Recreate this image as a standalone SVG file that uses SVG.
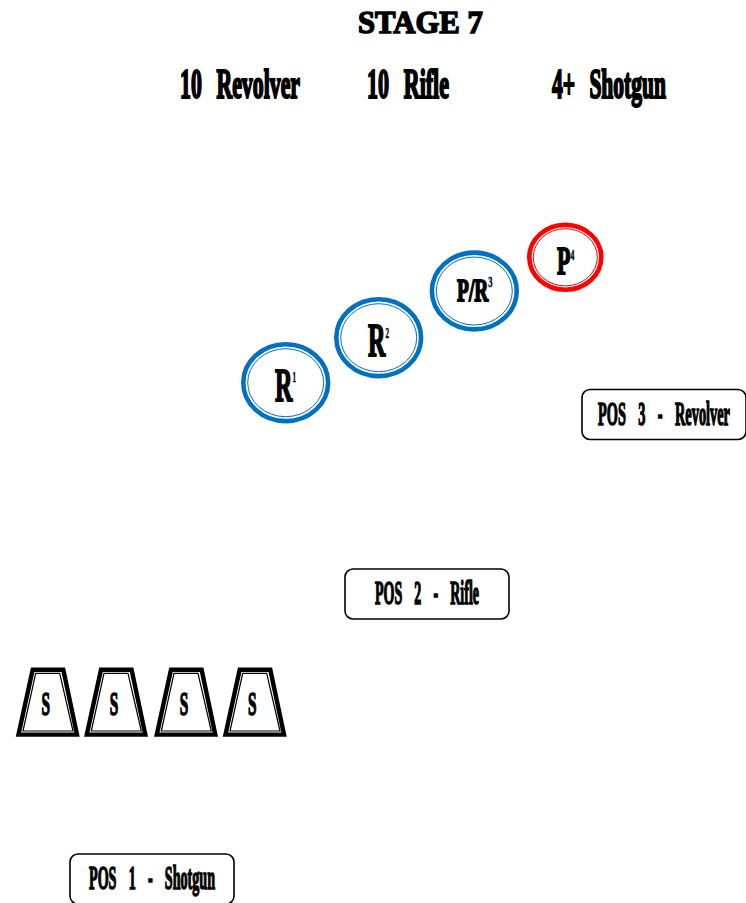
<svg xmlns="http://www.w3.org/2000/svg" width="746" height="903" viewBox="0 0 746 903">
<defs><style>
text{font-family:"Liberation Serif","DejaVu Serif",serif;font-weight:700;fill:#000;stroke:#000;text-anchor:start}
.t{font-size:31px;stroke-width:1.5}
.h{font-size:42px;stroke-width:2.2;word-spacing:17.500px}
.p{font-size:22px;stroke-width:1;word-spacing:13.500px}
.o{fill:#fff;stroke:#0070c0;stroke-width:4.600px}
.i{fill:none;stroke:#0070c0;stroke-width:1px}
.r{stroke:#f00}
.b{fill:#fff;stroke:#000;stroke-width:1.600px}
.to{fill:#fff;stroke:#000;stroke-width:4.400px;stroke-linejoin:miter}
.ti{fill:none;stroke:#000;stroke-width:1.200px}
.s{font-size:33px;stroke-width:1.500}
.c{stroke-width:1.800}
.u{font-size:14px;stroke-width:.4}
</style></defs>
<rect width="746" height="903" fill="#fff"/>
<g id="header">
<text class="t" transform="translate(358 33) scale(.99 1)">STAGE 7</text>
<text class="h" transform="translate(180 97.500) scale(.52 1)">10 Revolver</text>
<text class="h" transform="translate(367 97.500) scale(.525 1)">10 Rifle</text>
<text class="h" transform="translate(552 97.500) scale(.513 1)">4+ Shotgun</text>
</g>
<g id="connectors"></g>
<g id="target-r1">
<ellipse class="o" cx="285.700" cy="382.700" rx="42.400" ry="38.400"/><ellipse class="i" cx="285.700" cy="382.700" rx="38" ry="34"/>
<text class="c" font-size="47" transform="translate(275 400.500) scale(.513 1)">R<tspan class="u" dy="-19">1</tspan></text>
</g>
<g id="target-r2">
<ellipse class="o" cx="378.700" cy="337.700" rx="42.400" ry="38.400"/><ellipse class="i" cx="378.700" cy="337.700" rx="38" ry="34"/>
<text class="c" font-size="47" transform="translate(368 355.500) scale(.513 1)">R<tspan class="u" dy="-18">2</tspan></text>
</g>
<g id="target-pr3">
<ellipse class="o" cx="474.300" cy="291" rx="42.400" ry="38.400"/><ellipse class="i" cx="474.300" cy="291" rx="38" ry="34"/>
<text class="c" font-size="32" transform="translate(457 301) scale(.608 1)">P/R<tspan class="u" dy="-14" font-size="12">3</tspan></text>
</g>
<g id="target-p4">
<ellipse class="o r" cx="565.300" cy="257.300" rx="36" ry="32.400"/><ellipse class="i r" cx="565.300" cy="257.300" rx="32" ry="28.600"/>
<text class="c" font-size="40" transform="translate(557 273.500) scale(.55 1)">P<tspan class="u" dy="-14" font-size="13">4</tspan></text>
</g>
<g id="pos3">
<rect class="b" x="582" y="389.500" width="164" height="50" rx="8"/>
<text class="p" transform="translate(598 424.500) scale(.652 1.500)">POS 3 - Revolver</text>
</g>
<g id="pos2">
<rect class="b" x="345" y="569" width="164" height="50" rx="8"/>
<text class="p" transform="translate(375 604) scale(.637 1.500)">POS 2 - Rifle</text>
</g>
<g id="pos1">
<rect class="b" x="70" y="854" width="164" height="50" rx="8"/>
<text class="p" transform="translate(89 888.500) scale(.642 1.500)">POS 1 - Shotgun</text>
</g>
<g id="shotgun-1">
<path class="to" d="M32.700 669.800H63.300L77 734.600H18.500Z"/><path class="ti" d="M35.700 673.300H59.700L73 731H23Z"/>
<text class="s" transform="translate(41.500 715) scale(.464 1)">S</text>
</g>
<g id="shotgun-2">
<path class="to" d="M101 669.800H131.600L145.300 734.600H86.800Z"/><path class="ti" d="M104 673.300H128L141.300 731H91.300Z"/>
<text class="s" transform="translate(109.800 715) scale(.464 1)">S</text>
</g>
<g id="shotgun-3">
<path class="to" d="M171 669.800H201.600L215.300 734.600H156.800Z"/><path class="ti" d="M174 673.300H198L211.300 731H161.300Z"/>
<text class="s" transform="translate(179.800 715) scale(.464 1)">S</text>
</g>
<g id="shotgun-4">
<path class="to" d="M239.700 669.800H270.300L284 734.600H225.500Z"/><path class="ti" d="M242.700 673.300H266.700L280 731H230Z"/>
<text class="s" transform="translate(248 715) scale(.464 1)">S</text>
</g>
</svg>
